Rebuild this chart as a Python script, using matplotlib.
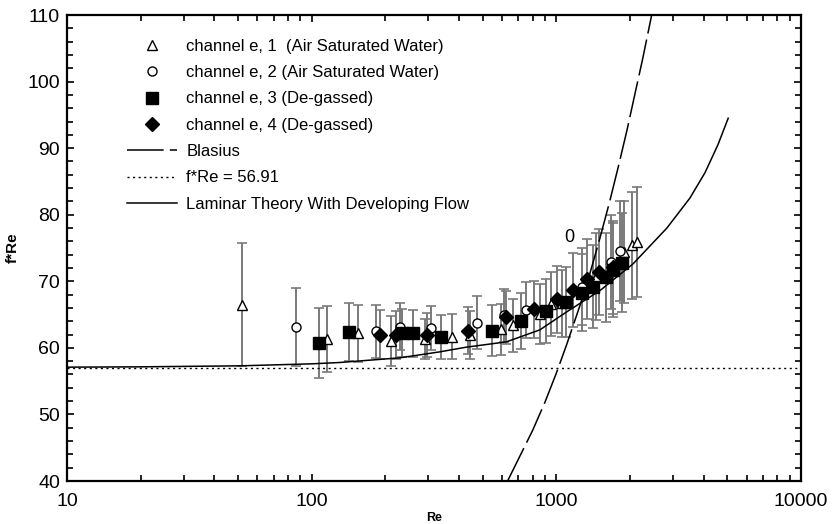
import numpy as np
import matplotlib
matplotlib.use('Agg')
import matplotlib.pyplot as plt
from matplotlib.lines import Line2D

plt.rcParams['font.family'] = ['Liberation Sans', 'DejaVu Sans']

# channel e, 1 (air saturated water) - open triangles
re1 = [51.8, 115, 154, 211, 290, 373, 444, 594, 663, 858, 951, 1050, 1446, 1890, 2040, 2140]
fre1 = [66.5, 61.3, 62.2, 61.0, 61.3, 61.7, 61.9, 62.8, 63.4, 65.1, 66.6, 66.7, 70.7, 74.4, 75.4, 75.9]
err1 = [9.2, 5.0, 4.3, 3.8, 3.0, 3.4, 3.6, 3.8, 4.0, 4.5, 4.8, 5.0, 6.5, 7.6, 8.0, 8.2]

# channel e, 2 (air saturated water) - open circles
re2 = [86, 183, 230, 306, 476, 611, 751, 1276, 1670, 1815]
fre2 = [63.1, 62.5, 63.2, 63.0, 63.8, 64.9, 65.7, 69.2, 72.9, 74.5]
err2 = [5.9, 4.0, 3.5, 3.3, 4.0, 4.0, 4.2, 5.8, 7.0, 7.5]

# channel e, 3 (de-gassed) - filled squares
re3 = [107, 142, 233, 260, 337, 544, 717, 910, 1100, 1276, 1415, 1595, 1710, 1850]
fre3 = [60.7, 62.4, 62.3, 62.2, 61.6, 62.6, 64.0, 65.6, 66.9, 68.3, 69.2, 70.6, 71.7, 72.8]
err3 = [5.3, 4.3, 3.6, 3.5, 3.3, 3.8, 4.2, 4.8, 5.2, 5.8, 6.2, 6.7, 7.0, 7.4]

# channel e, 4 (de-gassed) - filled diamonds
re4 = [190, 222, 297, 434, 622, 813, 1003, 1165, 1330, 1490, 1710]
fre4 = [62.0, 61.9, 61.9, 62.6, 64.6, 65.8, 67.3, 68.7, 70.3, 71.4, 72.1]
err4 = [3.7, 3.6, 3.3, 3.5, 4.0, 4.3, 5.0, 5.5, 6.0, 6.5, 7.0]

# Blasius line
re_bl = [632, 700, 800, 900, 1000, 1100, 1250, 1350, 1500, 1650, 1800, 1950, 2100, 2250, 2453]
fre_bl = [40.0, 43.3, 47.6, 51.9, 56.2, 60.4, 66.4, 70.3, 76.2, 81.9, 87.5, 92.9, 98.3, 103.3, 110.0]

# laminar theory with developing flow
re_lam = [10, 20, 51, 100, 130, 229, 334, 428, 625, 856, 1102, 1507, 2056, 2831, 3515, 4050, 4575, 5041]
fre_lam = [57.1, 57.15, 57.3, 57.6, 57.8, 58.5, 59.4, 60.1, 60.9, 62.7, 65.4, 68.6, 72.6, 78.0, 82.5, 86.3, 90.5, 94.5]

fre_fd = 56.91

fig = plt.figure(figsize=(8.34, 5.24), dpi=100)
ax = fig.add_axes([67/834, 1 - 481/524, 734/834, 466/524])

ebkw = dict(fmt='none', ecolor='#7a7a7a', elinewidth=1.4, capsize=3.6, capthick=1.2, zorder=2)
for r, v, e in [(re1, fre1, err1), (re2, fre2, err2), (re3, fre3, err3), (re4, fre4, err4)]:
    ax.errorbar(r, v, yerr=e, **ebkw)

ax.plot([10, 10000], [fre_fd, fre_fd], color='black', lw=1.0, ls=(0, (1.5, 2.5)), zorder=3)
ax.plot(re_lam, fre_lam, color='black', lw=1.1, zorder=3)
ax.plot(re_bl, fre_bl, color='black', lw=1.1, dashes=(24, 4), zorder=3)

ax.plot(re1, fre1, ls='none', marker='^', ms=7.5, mfc='white', mec='black', mew=1.0, zorder=5)
ax.plot(re2, fre2, ls='none', marker='o', ms=6.5, mfc='white', mec='black', mew=1.0, zorder=5)
ax.plot(re3, fre3, ls='none', marker='s', ms=8, mfc='black', mec='black', zorder=5)
ax.plot(re4, fre4, ls='none', marker='D', ms=7, mfc='black', mec='black', zorder=5)

ax.text(1125, 76.6, '0', fontsize=13, ha='center', va='center')

ax.set_xscale('log')
ax.set_xlim(10, 10000)
ax.set_ylim(40, 110)
ax.set_xticks([10, 100, 1000, 10000])
ax.set_xticklabels(['10', '100', '1000', '10000'])
ax.set_yticks(np.arange(40, 111, 10))
ax.set_yticks(np.arange(40, 111, 2), minor=True)

for s in ax.spines.values():
    s.set_linewidth(1.6)
ax.tick_params(which='both', direction='in', top=True, right=True, width=1.2, labelsize=14)
ax.tick_params(which='major', length=5)
ax.tick_params(which='minor', length=4.5)
ax.tick_params(axis='x', which='both', pad=9)
ax.tick_params(axis='y', which='both', pad=5)

ax.set_xlabel('Re', fontsize=9, fontweight='bold', labelpad=1)
ax.set_ylabel('f*Re', fontsize=11, fontweight='bold')
ax.yaxis.set_label_coords(-47/734, 0.5)

handles = [
    Line2D([], [], ls='none', marker='^', ms=7.5, mfc='white', mec='black', mew=1.0),
    Line2D([], [], ls='none', marker='o', ms=6.5, mfc='white', mec='black', mew=1.0),
    Line2D([], [], ls='none', marker='s', ms=8, mfc='black', mec='black'),
    Line2D([], [], ls='none', marker='D', ms=7, mfc='black', mec='black'),
    Line2D([], [], color='black', lw=1.1, dashes=(24, 4)),
    Line2D([], [], color='black', lw=1.0, ls=(0, (1.5, 2.5))),
    Line2D([], [], color='black', lw=1.1),
]
labels = [
    'channel e, 1  (Air Saturated Water)',
    'channel e, 2 (Air Saturated Water)',
    'channel e, 3 (De-gassed)',
    'channel e, 4 (De-gassed)',
    'Blasius',
    'f*Re = 56.91',
    'Laminar Theory With Developing Flow',
]
ax.legend(handles, labels, loc='upper left', bbox_to_anchor=(60/734, 0.949), frameon=False,
          fontsize=12, handlelength=3.0, handletextpad=0.55, labelspacing=0.68,
          borderpad=0, borderaxespad=0)

fig.savefig('out.png', dpi=100)
